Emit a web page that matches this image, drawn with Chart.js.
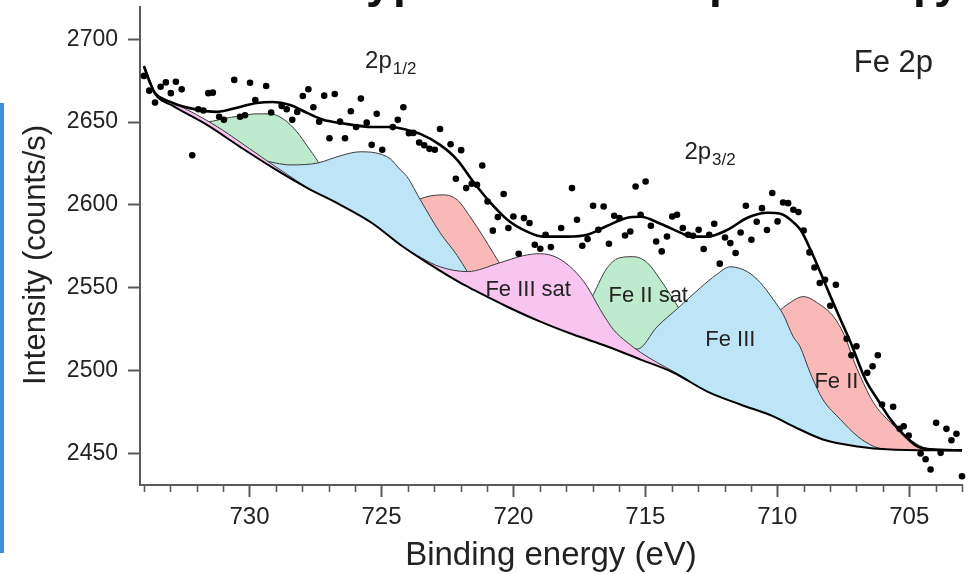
<!DOCTYPE html>
<html>
<head>
<meta charset="utf-8">
<script src="https://cdn.jsdelivr.net/npm/chart.js@4.4.0/dist/chart.umd.min.js"></script>
<style>
  html, body { margin: 0; padding: 0; background: #fff; }
  #wrap { position: relative; width: 972px; height: 574px; overflow: hidden; }
  #xps { position: absolute; left: 0; top: 0; }
  .bar { position: absolute; left: 0; top: 103px; width: 4px; height: 450px; background: #3b8fd9; }
  .cut { position: absolute; top: -45px; font: bold 46px/52px "Liberation Sans", Arial, sans-serif; color: #111; }
</style>
</head>
<body>
<div id="wrap">
  <canvas id="xps" width="972" height="574"></canvas>
  <div class="bar"></div>
  <span class="cut" style="left:366px">y</span>
  <span class="cut" style="left:393px">p</span>
  <span class="cut" style="left:709px">p</span>
  <span class="cut" style="left:913px">p</span>
  <span class="cut" style="left:934px">y</span>
</div>
<script>
// axis ticks
const xTicks = [705, 710, 715, 720, 725, 730];
const yTicks = [2450, 2500, 2550, 2600, 2650, 2700];

// measured counts [binding energy, counts/s]
const measured = [
  [734.00, 2677.9], [733.80, 2669.0], [733.58, 2661.8], [733.37, 2671.4], [733.17, 2674.0],
  [732.98, 2667.5], [732.79, 2674.4], [732.57, 2669.8], [732.17, 2630.0], [731.94, 2657.8],
  [731.75, 2657.0], [731.56, 2667.5], [731.39, 2667.8], [731.15, 2653.3], [730.97, 2651.4],
  [730.58, 2675.5], [730.36, 2653.3], [730.17, 2654.2], [729.98, 2673.8], [729.78, 2663.4],
  [729.37, 2671.8], [729.18, 2655.8], [728.78, 2659.8], [728.59, 2657.8], [728.38, 2651.4],
  [728.19, 2656.2], [727.98, 2665.8], [727.77, 2669.9], [727.58, 2659.0], [727.36, 2650.3],
  [727.17, 2666.0], [726.97, 2640.3], [726.77, 2667.0], [726.57, 2650.3], [726.38, 2640.3],
  [726.16, 2656.6], [725.96, 2647.0], [725.78, 2664.2], [725.56, 2649.7], [725.37, 2636.3],
  [725.18, 2655.0], [724.97, 2633.3], [724.57, 2647.0], [724.38, 2651.4], [724.17, 2659.0],
  [723.96, 2643.3], [723.79, 2643.5], [723.57, 2637.7], [723.38, 2636.1], [723.18, 2633.9],
  [722.98, 2633.3], [722.78, 2645.9], [722.38, 2636.7], [722.18, 2615.8], [721.98, 2633.1],
  [721.79, 2610.2], [721.58, 2612.8], [721.38, 2612.2], [721.18, 2623.8], [720.98, 2602.1],
  [720.78, 2584.5], [720.59, 2592.7], [720.37, 2606.6], [720.19, 2586.1], [720.00, 2593.1],
  [719.80, 2570.6], [719.60, 2592.1], [719.39, 2589.1], [719.19, 2576.0], [718.98, 2573.6],
  [718.78, 2582.0], [718.58, 2574.6], [718.19, 2586.1], [717.78, 2610.2], [717.59, 2591.1],
  [717.39, 2575.4], [717.19, 2579.4], [716.98, 2599.5], [716.78, 2585.0], [716.58, 2599.1],
  [716.38, 2576.6], [716.18, 2593.5], [715.98, 2592.1], [715.77, 2581.6], [715.57, 2584.0],
  [715.37, 2611.2], [715.18, 2594.1], [714.99, 2614.2], [714.79, 2587.5], [714.59, 2578.0],
  [714.38, 2572.0], [714.18, 2581.0], [713.98, 2593.1], [713.80, 2594.1], [713.58, 2586.1],
  [713.38, 2582.0], [713.19, 2581.4], [712.98, 2585.0], [712.79, 2573.4], [712.58, 2582.0],
  [712.39, 2588.7], [712.18, 2564.6], [711.98, 2580.4], [711.78, 2577.0], [711.58, 2571.0],
  [711.39, 2583.4], [711.19, 2599.5], [710.98, 2579.0], [710.78, 2589.9], [710.58, 2598.1],
  [710.39, 2584.9], [710.19, 2607.2], [709.99, 2590.1], [709.78, 2601.5], [709.59, 2601.1],
  [709.39, 2597.1], [709.20, 2595.7], [709.00, 2584.6], [708.78, 2571.4], [708.59, 2562.3],
  [708.39, 2552.9], [708.19, 2554.9], [707.99, 2539.2], [707.78, 2551.9], [707.37, 2519.2],
  [707.19, 2509.3], [707.00, 2514.7], [706.59, 2498.7], [706.39, 2502.7], [706.19, 2509.3],
  [706.03, 2479.6], [705.61, 2478.2], [705.36, 2464.9], [705.21, 2466.5], [705.02, 2460.9],
  [704.57, 2450.0], [704.38, 2446.5], [704.19, 2440.4], [703.98, 2468.5], [703.81, 2450.4],
  [703.59, 2464.9], [703.40, 2458.0], [703.21, 2461.9], [703.00, 2436.3]
];

// fitted envelope
const envelope = [
  [734.0, 2683.9], [733.77, 2673.7], [733.58, 2667.5], [732.9, 2661.6], [732.14, 2658.0],
  [731.23, 2656.2], [730.36, 2659.2], [729.72, 2661.6], [729.11, 2662.2], [728.46, 2660.4],
  [727.82, 2655.6], [727.21, 2651.4], [726.56, 2649.5], [725.32, 2647.1], [724.67, 2647.1],
  [724.03, 2645.3], [723.53, 2642.9], [722.78, 2636.3], [722.13, 2627.3], [721.52, 2614.0],
  [720.87, 2601.4], [720.23, 2591.1], [719.48, 2583.9], [718.87, 2580.9], [717.96, 2580.9],
  [717.2, 2582.0], [716.44, 2587.5], [715.68, 2592.3], [715.18, 2592.9], [714.43, 2588.7],
  [713.67, 2583.3], [713.29, 2580.9], [712.65, 2580.9], [711.89, 2585.0], [711.13, 2592.3],
  [710.37, 2595.3], [709.88, 2594.7], [709.5, 2591.1], [709.12, 2585.0], [708.74, 2573.0],
  [708.36, 2559.1], [707.98, 2544.7], [707.6, 2530.8], [707.22, 2517.0], [706.66, 2494.7],
  [706.2, 2482.6], [705.71, 2470.6], [705.22, 2461.5], [704.69, 2454.3], [704.19, 2452.5],
  [702.98, 2451.9]
];

// background
const background = [
  [734.0, 2683.3], [733.77, 2674.3], [733.58, 2667.0], [732.9, 2659.8], [731.61, 2648.3],
  [730.36, 2635.1], [729.11, 2622.4], [727.82, 2610.4], [726.56, 2600.1], [725.32, 2588.7],
  [724.29, 2576.0], [723.15, 2564.0], [722.02, 2553.1], [721.52, 2548.9], [720.23, 2538.6],
  [718.98, 2529.6], [717.73, 2521.8], [716.44, 2514.6], [715.18, 2506.7], [713.94, 2498.9],
  [712.65, 2487.4], [711.4, 2479.6], [710.15, 2472.4], [709.39, 2466.4], [708.27, 2458.5],
  [706.96, 2454.3], [705.71, 2452.5], [702.98, 2451.9]
];

// 2p1/2 components (upper edges)
const fe3Sat12 = [
  [733.58, 2667.0], [733.0, 2662.5], [732.0, 2654.5], [731.0, 2645.0], [730.0, 2634.0],
  [729.0, 2623.0], [727.82, 2610.4]
];
const fe2Sat12 = [
  [731.8, 2650.0], [731.4, 2650.6], [731.0, 2652.0], [730.36, 2653.8], [729.71, 2655.0],
  [729.22, 2655.0], [728.73, 2652.0], [728.2, 2644.1], [727.82, 2635.7], [727.4, 2626.0],
  [726.95, 2612.2], [726.4, 2598.6]
];
const fe3P12 = [
  [729.6, 2627.4], [729.0, 2625.3], [728.46, 2624.2], [727.9, 2624.4], [727.4, 2625.4],
  [726.56, 2629.7], [725.81, 2632.1], [725.24, 2631.5], [724.67, 2627.9], [724.29, 2621.3],
  [724.03, 2617.1], [723.53, 2603.2], [722.78, 2583.3], [722.13, 2569.5], [721.75, 2559.8],
  [721.3, 2547.1]
];
const fe2P12 = [
  [725.2, 2587.2], [724.6, 2594.0], [724.0, 2601.0], [723.53, 2603.7], [723.15, 2605.5],
  [722.66, 2606.1], [722.13, 2603.1], [721.64, 2592.9], [721.14, 2580.8], [720.77, 2571.2],
  [720.5, 2564.0], [720.1, 2550.0], [719.6, 2534.1]
];

// 2p3/2 components (upper edges)
const fe3Sat32 = [
  [724.3, 2576.0], [723.5, 2568.2], [722.78, 2562.7], [721.75, 2559.8], [720.5, 2565.2],
  [719.63, 2569.4], [718.98, 2570.6], [718.34, 2568.2], [717.73, 2561.0], [717.2, 2550.7],
  [716.71, 2536.9], [716.21, 2524.8], [715.68, 2517.0], [715.18, 2511.0], [714.55, 2504.9],
  [713.94, 2499.5], [713.4, 2494.4]
];
const fe2Sat32 = [
  [718.5, 2526.6], [717.8, 2526.0], [717.3, 2535.0], [716.97, 2546.0], [716.44, 2562.2],
  [715.95, 2568.2], [715.46, 2568.8], [714.93, 2565.2], [714.43, 2554.9], [713.94, 2542.9],
  [713.67, 2535.7], [713.2, 2514.0], [712.6, 2487.0]
];
const fe3P32 = [
  [716.3, 2513.7], [715.8, 2515.5], [715.3, 2513.0], [714.55, 2526.6], [713.79, 2537.4],
  [712.91, 2550.1], [712.31, 2557.9], [711.78, 2562.7], [711.13, 2559.7], [710.64, 2553.1],
  [710.15, 2542.9], [709.77, 2533.8], [709.4, 2520.6], [709.14, 2514.6], [708.76, 2498.9],
  [708.27, 2482.6], [707.61, 2470.6], [706.96, 2460.4], [706.35, 2454.3], [706.09, 2453.0]
];
const fe2P32 = [
  [711.5, 2480.2], [710.8, 2505.0], [710.3, 2526.0], [710.0, 2534.4], [709.52, 2541.0],
  [709.01, 2544.7], [708.44, 2540.5], [707.87, 2532.6], [707.42, 2520.0], [707.12, 2506.7],
  [706.85, 2496.5], [706.36, 2480.8], [705.71, 2468.7], [705.07, 2459.7], [704.46, 2453.7],
  [703.81, 2452.0]
];

const FONT = "'Liberation Sans', Arial, sans-serif";
const INK = '#222';
const AXIS = '#5a5a5a';

const pts = arr => arr.map(([x, y]) => ({ x, y })).sort((a, b) => a.x - b.x);

// fill every component down to the background (dataset 2)
function component(data, color) {
  return {
    data: pts(data),
    fill: 2,
    backgroundColor: color,
    borderColor: '#3b3b3b',
    borderWidth: 1,
    pointRadius: 0,
    cubicInterpolationMode: 'monotone'
  };
}

const PINK = '#f8c4f0', BLUE = '#bee4f8', GREEN = '#beebcd', RED = '#fab9b9';

// text, minor ticks and y title
const notes = {
  id: 'notes',
  afterDraw(chart) {
    const { ctx, scales: { x, y } } = chart;
    ctx.save();

    ctx.strokeStyle = AXIS;
    ctx.lineWidth = 1.6;
    const base = chart.chartArea.bottom;
    for (let e = 703; e <= 734; e++) {
      if (e % 5 === 0) continue;
      const px = Math.round(x.getPixelForValue(e)) + 0.5;
      ctx.beginPath();
      ctx.moveTo(px, base);
      ctx.lineTo(px, base + 7);
      ctx.stroke();
    }

    ctx.fillStyle = INK;
    ctx.textBaseline = 'alphabetic';
    ctx.textAlign = 'left';

    const sub = (main, small, e, c, shift) => {
      const px = x.getPixelForValue(e), py = y.getPixelForValue(c);
      ctx.font = '24px ' + FONT;
      ctx.fillText(main, px, py);
      const w = ctx.measureText(main).width;
      ctx.font = '17px ' + FONT;
      ctx.fillText(small, px + w + 1, py + shift);
    };
    sub('2p', '1/2', 725.62, 2682.5, 6);
    sub('2p', '3/2', 713.52, 2627.5, 6);

    ctx.font = '31px ' + FONT;
    ctx.fillText('Fe 2p', x.getPixelForValue(707.1), y.getPixelForValue(2680.3));

    ctx.font = '22px ' + FONT;
    ctx.textAlign = 'center';
    ctx.fillText('Fe III sat', x.getPixelForValue(719.44), y.getPixelForValue(2544.8));
    ctx.fillText('Fe II sat', x.getPixelForValue(714.89), y.getPixelForValue(2541.2));
    ctx.fillText('Fe III', x.getPixelForValue(711.78), y.getPixelForValue(2514.6));
    ctx.fillText('Fe II', x.getPixelForValue(707.76), y.getPixelForValue(2489.3));

    ctx.translate(36, 255);
    ctx.rotate(-Math.PI / 2);
    ctx.font = '31px ' + FONT;
    ctx.textBaseline = 'middle';
    ctx.fillText('Intensity (counts/s)', 0, 0);
    ctx.restore();
  }
};

new Chart(document.getElementById('xps'), {
  type: 'line',
  data: {
    datasets: [
      { data: pts(measured), showLine: false, pointRadius: 3.3, pointBackgroundColor: '#000',
        pointBorderWidth: 0, clip: 6 },
      { data: pts(envelope), borderColor: '#000', borderWidth: 2.6, pointRadius: 0,
        cubicInterpolationMode: 'monotone', fill: false },
      { data: pts(background), borderColor: '#000', borderWidth: 2, pointRadius: 0,
        cubicInterpolationMode: 'monotone', fill: false },
      component(fe3Sat32, PINK),
      component(fe3Sat12, PINK),
      component(fe3P32, BLUE),
      component(fe3P12, BLUE),
      component(fe2Sat32, GREEN),
      component(fe2P32, RED),
      component(fe2Sat12, GREEN),
      component(fe2P12, RED)
    ]
  },
  options: {
    responsive: false,
    animation: false,
    devicePixelRatio: 1,
    layout: { padding: { left: 0, right: 10, top: 7, bottom: 0 } },
    plugins: { legend: { display: false }, tooltip: { enabled: false } },
    scales: {
      x: {
        type: 'linear',
        reverse: true,
        min: 703,
        max: 734.15,
        afterBuildTicks: s => { s.ticks = xTicks.map(v => ({ value: v })); },
        afterFit: s => { s.height = 89; s.paddingLeft = 0; s.paddingRight = 0; },
        grid: { drawOnChartArea: false, tickLength: 12, tickColor: AXIS, tickWidth: 2 },
        border: { color: AXIS, width: 2 },
        ticks: { callback: v => String(v), color: INK, padding: 6, maxRotation: 0,
          font: { family: FONT, size: 24 } },
        title: { display: true, text: 'Binding energy (eV)', color: INK,
          font: { family: FONT, size: 33, lineHeight: 1 }, padding: { top: 0, bottom: 2 } }
      },
      y: {
        min: 2431,
        max: 2719.5,
        afterBuildTicks: s => { s.ticks = yTicks.map(v => ({ value: v })); },
        afterFit: s => { s.width = 140; s.paddingTop = 0; s.paddingBottom = 0; },
        grid: { drawOnChartArea: false, tickLength: 12, tickColor: AXIS, tickWidth: 2 },
        border: { color: AXIS, width: 2 },
        ticks: { callback: v => String(v), color: INK, padding: 10,
          font: { family: FONT, size: 23 } }
      }
    }
  },
  plugins: [notes]
});
</script>
</body>
</html>
